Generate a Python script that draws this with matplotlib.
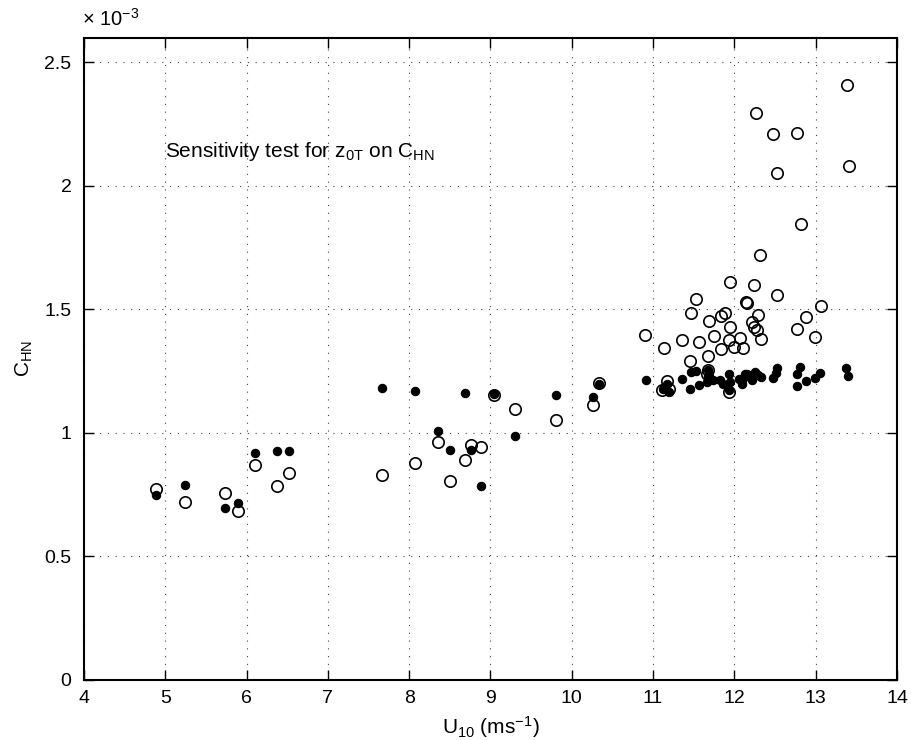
import matplotlib
matplotlib.use("Agg")
import matplotlib.pyplot as plt

plt.rcParams['font.family'] = ['Liberation Sans', 'DejaVu Sans']
plt.rcParams['mathtext.fontset'] = 'custom'
plt.rcParams['mathtext.rm'] = 'Liberation Sans'
plt.rcParams['mathtext.it'] = 'Liberation Sans'
plt.rcParams['mathtext.default'] = 'regular'

# Open circles: (U10, C_HN x 1e-3)
open_u = [4.88, 5.24, 5.73, 5.89, 6.10, 6.37, 6.52,
          7.66, 8.07, 8.35, 8.50, 8.69, 8.76, 8.88, 9.04, 9.30, 9.81, 10.26, 10.33,
          10.90, 11.13, 11.35, 11.45, 11.47, 11.53, 11.57, 11.67, 11.69, 11.68, 11.66,
          11.75, 11.83, 11.88, 11.84, 11.95, 11.95, 11.93, 12.00, 12.07, 12.10, 12.14,
          12.15, 12.24, 12.22, 12.24, 12.29, 12.28, 12.33, 12.32, 12.52, 12.77, 12.88,
          12.99, 13.06, 11.94, 11.17, 11.11, 11.20,
          12.27, 12.48, 12.77, 12.52, 13.38, 13.41, 12.82]
open_c = [0.772, 0.721, 0.757, 0.683, 0.869, 0.787, 0.836,
          0.829, 0.880, 0.964, 0.806, 0.890, 0.953, 0.942, 1.154, 1.097, 1.051, 1.113, 1.204,
          1.398, 1.344, 1.378, 1.290, 1.487, 1.542, 1.367, 1.310, 1.453, 1.256, 1.237,
          1.392, 1.475, 1.484, 1.341, 1.613, 1.429, 1.375, 1.350, 1.386, 1.345, 1.530,
          1.526, 1.600, 1.449, 1.429, 1.479, 1.415, 1.380, 1.719, 1.560, 1.421, 1.468,
          1.388, 1.514, 1.166, 1.210, 1.175, 1.180,
          2.297, 2.211, 2.213, 2.053, 2.409, 2.080, 1.844]

# Filled dots: (U10, C_HN x 1e-3)
fill_u = [4.88, 5.24, 5.73, 5.89, 6.10, 6.37, 6.52,
          7.66, 8.07, 8.35, 8.50, 8.69, 8.76, 8.88, 9.04, 9.30, 9.81, 10.26, 10.33,
          10.91, 11.17, 11.12, 11.20, 11.35, 11.45, 11.47, 11.53, 11.57, 11.68, 11.68,
          11.66, 11.74, 11.82, 11.86, 11.94, 11.93, 11.95, 12.06, 12.09, 12.15,
          12.13, 12.19, 12.25, 12.29, 12.33, 12.22, 12.09, 12.52, 12.51, 12.48,
          12.81, 12.77, 12.77, 12.88, 12.99, 13.05, 13.37, 13.40]
fill_c = [0.748, 0.789, 0.698, 0.718, 0.919, 0.925, 0.925,
          1.183, 1.171, 1.006, 0.930, 1.162, 0.933, 0.786, 1.159, 0.987, 1.155, 1.147, 1.197,
          1.216, 1.200, 1.180, 1.166, 1.220, 1.180, 1.247, 1.251, 1.193, 1.256, 1.229,
          1.206, 1.216, 1.213, 1.200, 1.240, 1.175, 1.206, 1.220, 1.200, 1.240,
          1.240, 1.227, 1.247, 1.233, 1.227, 1.213, 1.216, 1.264, 1.243, 1.224,
          1.267, 1.237, 1.190, 1.210, 1.222, 1.243, 1.264, 1.229]

x_ticks = [4, 5, 6, 7, 8, 9, 10, 11, 12, 13, 14]
y_ticks = [0, 0.5, 1, 1.5, 2, 2.5]
y_tick_labels = ['0', '0.5', '1', '1.5', '2', '2.5']

fig = plt.figure(figsize=(9.11, 7.40), dpi=100)
ax = fig.add_axes([0.0922, 0.0811, 0.8924, 0.8679])

ax.plot(open_u, open_c, 'o', mfc='none', mec='black', ms=8.2, mew=1.2, zorder=3)
ax.plot(fill_u, fill_c, 'o', mfc='black', mec='black', ms=6.0, mew=0.8, zorder=4)

ax.set_xlim(4, 14)
ax.set_ylim(0, 2.6)
ax.set_xticks(x_ticks)
ax.set_xticklabels([str(t) for t in x_ticks])
ax.set_yticks(y_ticks)
ax.set_yticklabels(y_tick_labels)
ax.tick_params(direction='in', top=True, right=True, length=7, width=1,
               labelsize=14)
ax.tick_params(axis='y', pad=9)
ax.tick_params(axis='x', pad=7)
for s in ax.spines.values():
    s.set_linewidth(1.5)
ax.grid(True, linestyle=(0, (1, 6)), color='#444444', linewidth=0.8)
ax.set_axisbelow(True)

ax.set_xlabel('U$_{10}$ (ms$^{-1}$)', fontsize=15, labelpad=5)
ax.set_ylabel('C$_{HN}$', fontsize=15, labelpad=7)

ax.text(5.0, 2.14, 'Sensitivity test for z$_{0T}$ on C$_{HN}$', fontsize=15,
        va='center', ha='left')
fig.text(0.0905, 0.960, r'$\times$ 10$^{-3}$', fontsize=14.5, ha='left', va='bottom')

fig.savefig('out.png', dpi=100)
